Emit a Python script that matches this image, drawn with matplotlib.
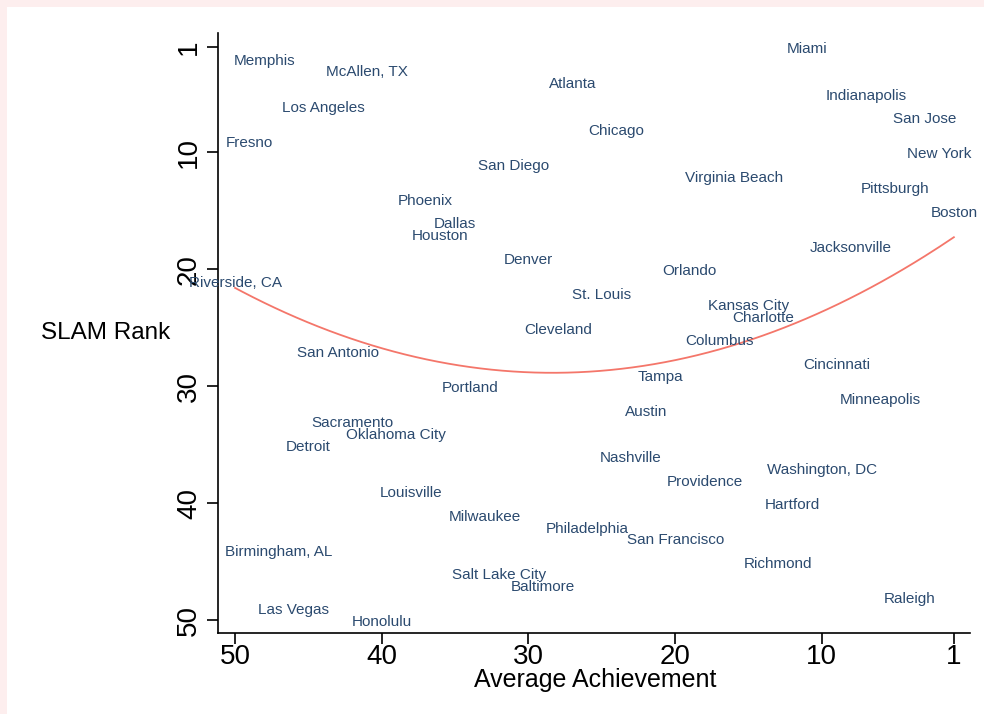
import matplotlib
matplotlib.use('Agg')
import matplotlib.pyplot as plt
import matplotlib.patches as mpatches
import matplotlib.transforms as mtransforms
import numpy as np

plt.rcParams['font.family'] = ['Liberation Sans', 'DejaVu Sans']

# city, average achievement rank, SLAM rank
cities = ['Miami', 'Memphis', 'McAllen, TX', 'Atlanta', 'Indianapolis', 'Los Angeles',
          'San Jose', 'Chicago', 'Fresno', 'New York', 'San Diego', 'Virginia Beach',
          'Pittsburgh', 'Phoenix', 'Boston', 'Dallas', 'Houston', 'Jacksonville',
          'Denver', 'Orlando', 'Riverside, CA', 'St. Louis', 'Kansas City', 'Charlotte',
          'Cleveland', 'Columbus', 'San Antonio', 'Cincinnati', 'Tampa', 'Portland',
          'Minneapolis', 'Austin', 'Sacramento', 'Oklahoma City', 'Detroit', 'Nashville',
          'Washington, DC', 'Providence', 'Louisville', 'Hartford', 'Milwaukee',
          'Philadelphia', 'San Francisco', 'Birmingham, AL', 'Richmond', 'Salt Lake City',
          'Baltimore', 'Raleigh', 'Las Vegas', 'Honolulu']
achievement = [11, 48, 41, 27, 7, 44, 3, 24, 49, 2, 31, 16, 5, 37, 1, 35, 36, 8,
               30, 19, 50, 25, 15, 14, 28, 17, 43, 9, 21, 34, 6, 22, 42, 39, 45, 23,
               10, 18, 38, 12, 33, 26, 20, 47, 13, 32, 29, 4, 46, 40]
slam_rank = list(range(1, 51))

TEXT_C = '#2b4a6f'
LINE_C = '#f4766a'

fig = plt.figure(figsize=(9.84, 7.14), dpi=100)
fig.patch.set_facecolor('#fdeeee')
fig.patches.append(mpatches.Rectangle((7 / 984, 0), 1, 1 - 7 / 714, transform=fig.transFigure,
                                      facecolor='white', edgecolor='none', zorder=-10))

ax = fig.add_axes([218 / 984, 81 / 714, 752 / 984, 600 / 714])
ax.set_facecolor('none')

# nudge labels down a couple of pixels to sit like the original
lbl_tr = mtransforms.offset_copy(ax.transData, fig=fig, x=0, y=-2, units='dots')
for name, xv, yv in zip(cities, achievement, slam_rank):
    ax.text(xv, yv, name, color=TEXT_C, fontsize=11, ha='center', va='center',
            transform=lbl_tr, clip_on=False)

# quadratic fit
coef = np.polyfit(achievement, slam_rank, 2)
xs = np.linspace(min(achievement), max(achievement), 200)
ax.plot(xs, np.polyval(coef, xs), color=LINE_C, lw=1.3)

ax.set_xlim(51.16, -0.1)
ax.set_ylim(51.1, -0.2)
ax.set_xticks([50, 40, 30, 20, 10, 1])
ax.set_yticks([1, 10, 20, 30, 40, 50])
ax.tick_params(axis='both', labelsize=20, length=8, width=1.2, direction='out')
ax.tick_params(axis='x', pad=0)
ax.tick_params(axis='y', labelrotation=90)
for lbl in ax.get_yticklabels():
    lbl.set_va('center')
for side in ['top', 'right']:
    ax.spines[side].set_visible(False)
for side in ['left', 'bottom']:
    ax.spines[side].set_linewidth(1.2)

ax.set_ylabel('SLAM Rank', fontsize=17.5, rotation=0, ha='center', va='center')
ax.yaxis.set_label_coords(-0.149, 0.5)
ax.set_xlabel('Average Achievement', fontsize=18, va='center')
ax.xaxis.set_label_coords(0.501, -0.079)

fig.savefig('out.png', dpi=100)
